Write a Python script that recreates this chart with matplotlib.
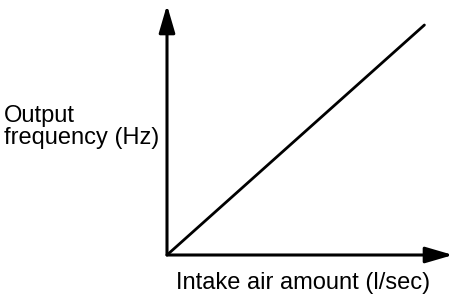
import matplotlib
matplotlib.use("Agg")
import matplotlib.pyplot as plt

# data
intake_air = [0.0, 0.9]
output_freq = [0.0, 0.92]
x_label = "Intake air amount (l/sec)"
y_label = "Output\nfrequency (Hz)"

W, H = 464, 300
fig = plt.figure(figsize=(W/100, H/100), dpi=100)
x0, y0, x1, y1 = 167, 255, 453, 5
ax = fig.add_axes([x0/W, 1 - y0/H, (x1-x0)/W, (y0-y1)/H])
ax.set_xlim(0, 1)
ax.set_ylim(0, 1)
ax.axis("off")

ax.plot(intake_air, output_freq, color="black", lw=2.0, solid_capstyle="round")

arrow_kw = dict(arrowstyle="-|>,head_length=1.2,head_width=0.35", color="black", lw=2.2,
                shrinkA=0, shrinkB=0, mutation_scale=14)
ax.annotate("", xy=(1, 0), xytext=(0, 0), xycoords="axes fraction", arrowprops=arrow_kw)
ax.annotate("", xy=(0, 1), xytext=(0, 0), xycoords="axes fraction", arrowprops=arrow_kw)

font = dict(family=["Liberation Sans", "DejaVu Sans"], fontsize=17, color="black")
fig.text(303/W, 1 - 283/H, x_label, ha="center", va="center", **font)
fig.text(4/W, 1 - 127/H, y_label, ha="left", va="center", linespacing=1.05, **font)

fig.savefig("out.png", dpi=100, facecolor="white")
